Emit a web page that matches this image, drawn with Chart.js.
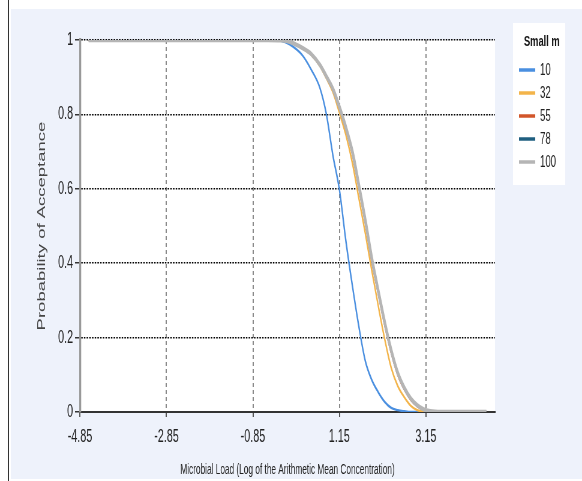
<!DOCTYPE html>
<html>
<head>
<meta charset="utf-8">
<script src="https://cdn.jsdelivr.net/npm/chart.js@4"></script>
<style>
  html, body { margin: 0; padding: 0; background: #fff; }
  body { width: 582px; height: 481px; position: relative; overflow: hidden; }
  #edge { position: absolute; left: 8px; top: 0; width: 1px; height: 481px; background: #333; }
  #panel { position: absolute; left: 11px; top: 9px; right: 0; height: 470px; background: #eef2fb; }
  /* the source picture is squeezed sideways, so draw wide and squeeze it */
  #wrap { position: absolute; left: 0; top: 0; width: 970px; height: 481px; transform: scaleX(0.6); transform-origin: 0 0; }
</style>
</head>
<body>
<div id="edge"></div>
<div id="panel"></div>
<div id="wrap"><canvas id="myChart" width="970" height="481"></canvas></div>
<script>
// log of the arithmetic mean concentration
const loadX = [-4.65, -0.5, -0.2, 0, 0.3, 0.5, 0.7, 0.85, 1.0, 1.15, 1.3, 1.45, 1.6, 1.75, 1.9, 2.05, 2.2, 2.35, 2.5, 2.65, 2.8, 2.95, 3.1, 3.25, 3.5, 4.55];

// probability of acceptance for each small m
const pa10  = [1, 1, 0.998, 0.988, 0.958, 0.92, 0.871, 0.80, 0.69, 0.598, 0.46, 0.34, 0.23, 0.137, 0.086, 0.053, 0.027, 0.011, 0.005, 0.002, 0, 0, 0, 0, 0, 0];
const pa32  = [1, 1, 1, 0.995, 0.977, 0.96, 0.93, 0.897, 0.86, 0.805, 0.745, 0.67, 0.575, 0.48, 0.38, 0.285, 0.195, 0.118, 0.07, 0.04, 0.017, 0.005, 0.001, 0, 0, 0];
const pa55  = [1, 1, 0.999, 0.995, 0.978, 0.961, 0.932, 0.9, 0.866, 0.816, 0.76, 0.694, 0.603, 0.508, 0.405, 0.318, 0.233, 0.159, 0.1, 0.061, 0.033, 0.016, 0.006, 0.001, 0, 0];
const pa78  = [1, 1, 0.999, 0.995, 0.978, 0.962, 0.933, 0.901, 0.868, 0.818, 0.763, 0.697, 0.607, 0.511, 0.409, 0.322, 0.237, 0.162, 0.103, 0.063, 0.035, 0.017, 0.007, 0.002, 0, 0];
const pa100 = [1, 1, 0.999, 0.995, 0.978, 0.962, 0.933, 0.902, 0.869, 0.82, 0.765, 0.70, 0.61, 0.515, 0.413, 0.325, 0.24, 0.165, 0.105, 0.065, 0.036, 0.018, 0.007, 0.002, 0, 0];

const seriesNames = ["10", "32", "55", "78", "100"];
const seriesColors = ["#4a8fe0", "#f3b44a", "#d2562a", "#1f5f80", "#b5b5b5"];
const seriesWidths = [2.4, 2.4, 2.4, 2.4, 4.5];
const seriesValues = [pa10, pa32, pa55, pa78, pa100];

const xTicks = [-4.85, -2.85, -0.85, 1.15, 3.15];
const xTickLabels = ["-4.85", "-2.85", "-0.85", "1.15", "3.15"];
const yTicks = [0, 0.2, 0.4, 0.6, 0.8, 1];
const yTickLabels = ["0", "0.2", "0.4", "0.6", "0.8", "1"];

const FONT = "'Liberation Sans', Arial, sans-serif";

const datasets = seriesNames.map((name, i) => ({
  label: name,
  data: loadX.map((x, j) => ({x: x, y: seriesValues[i][j]})),
  borderColor: seriesColors[i],
  backgroundColor: seriesColors[i],
  borderWidth: seriesWidths[i],
  pointRadius: 0,
  fill: false,
  cubicInterpolationMode: "monotone",
  order: seriesNames.length - i, // grey on top
}));

// white plot area and the boxed legend at the right
const plotBack = {
  id: "plotBack",
  beforeDraw(chart) {
    const {ctx, chartArea: a} = chart;
    ctx.save();
    ctx.fillStyle = "#fff";
    ctx.fillRect(a.left, a.top, a.right - a.left, a.bottom - a.top);
    ctx.restore();
  },
  afterDraw(chart) {
    const ctx = chart.ctx;
    ctx.save();
    ctx.fillStyle = "#fff";
    ctx.fillRect(855, 23, 87, 162);
    ctx.fillStyle = "#111";
    ctx.font = "bold 15.5px " + FONT;
    ctx.textAlign = "center";
    ctx.textBaseline = "middle";
    ctx.fillText("Small m", 903, 42);
    ctx.textAlign = "left";
    ctx.font = "16px " + FONT;
    chart.data.datasets.forEach((ds, i) => {
      const y = 70 + i * 23;
      ctx.strokeStyle = ds.borderColor;
      ctx.lineWidth = 3.5;
      ctx.beginPath();
      ctx.moveTo(865, y);
      ctx.lineTo(892, y);
      ctx.stroke();
      ctx.fillStyle = "#222";
      ctx.fillText(ds.label, 900, y + 1);
    });
    ctx.restore();
  }
};

const config = {
  type: "line",
  data: {datasets},
  plugins: [plotBack],
  options: {
    responsive: false,
    animation: false,
    layout: {padding: {left: 40, top: 40, right: 145, bottom: 0}},
    plugins: {legend: {display: false}, tooltip: {enabled: false}},
    scales: {
      x: {
        type: "linear",
        min: -4.85,
        max: 4.75,
        afterBuildTicks: s => { s.ticks = xTicks.map(v => ({value: v})); },
        afterFit: s => { s.height = 69; },
        ticks: {
          callback: (v, i) => xTickLabels[i],
          font: {family: FONT, size: 18},
          color: "#222",
          padding: 9.5,
          maxRotation: 0,
        },
        grid: {color: "#8a8a8a", lineWidth: 2, tickLength: 5, tickColor: "#555", tickWidth: 2},
        border: {color: "#333", width: 2, dash: [4, 3]},
        title: {
          display: true,
          text: "Microbial Load (Log of the Arithmetic Mean Concentration)",
          font: {family: FONT, size: 13.8},
          color: "#222",
          padding: {top: 0, bottom: 3},
        },
      },
      y: {
        min: 0,
        max: 1,
        afterBuildTicks: s => { s.ticks = yTicks.map(v => ({value: v})); },
        afterFit: s => { s.width = 93.3; },
        ticks: {
          callback: (v, i) => yTickLabels[i],
          font: {family: FONT, size: 18},
          color: "#222",
          padding: 3.3,
        },
        grid: {color: "#000", lineWidth: 1.5, tickLength: 8.3, tickColor: "#333", tickWidth: 1.5},
        border: {color: "#999", width: 3.3, dash: [2.5, 2]},
        title: {
          display: true,
          text: "Probability of Acceptance",
          font: {family: FONT, size: 18.5},
          color: "#444",
          padding: {top: 19, bottom: 0},
        },
      },
    },
  },
};

const myChart = new Chart(document.getElementById("myChart"), config);
</script>
</body>
</html>
